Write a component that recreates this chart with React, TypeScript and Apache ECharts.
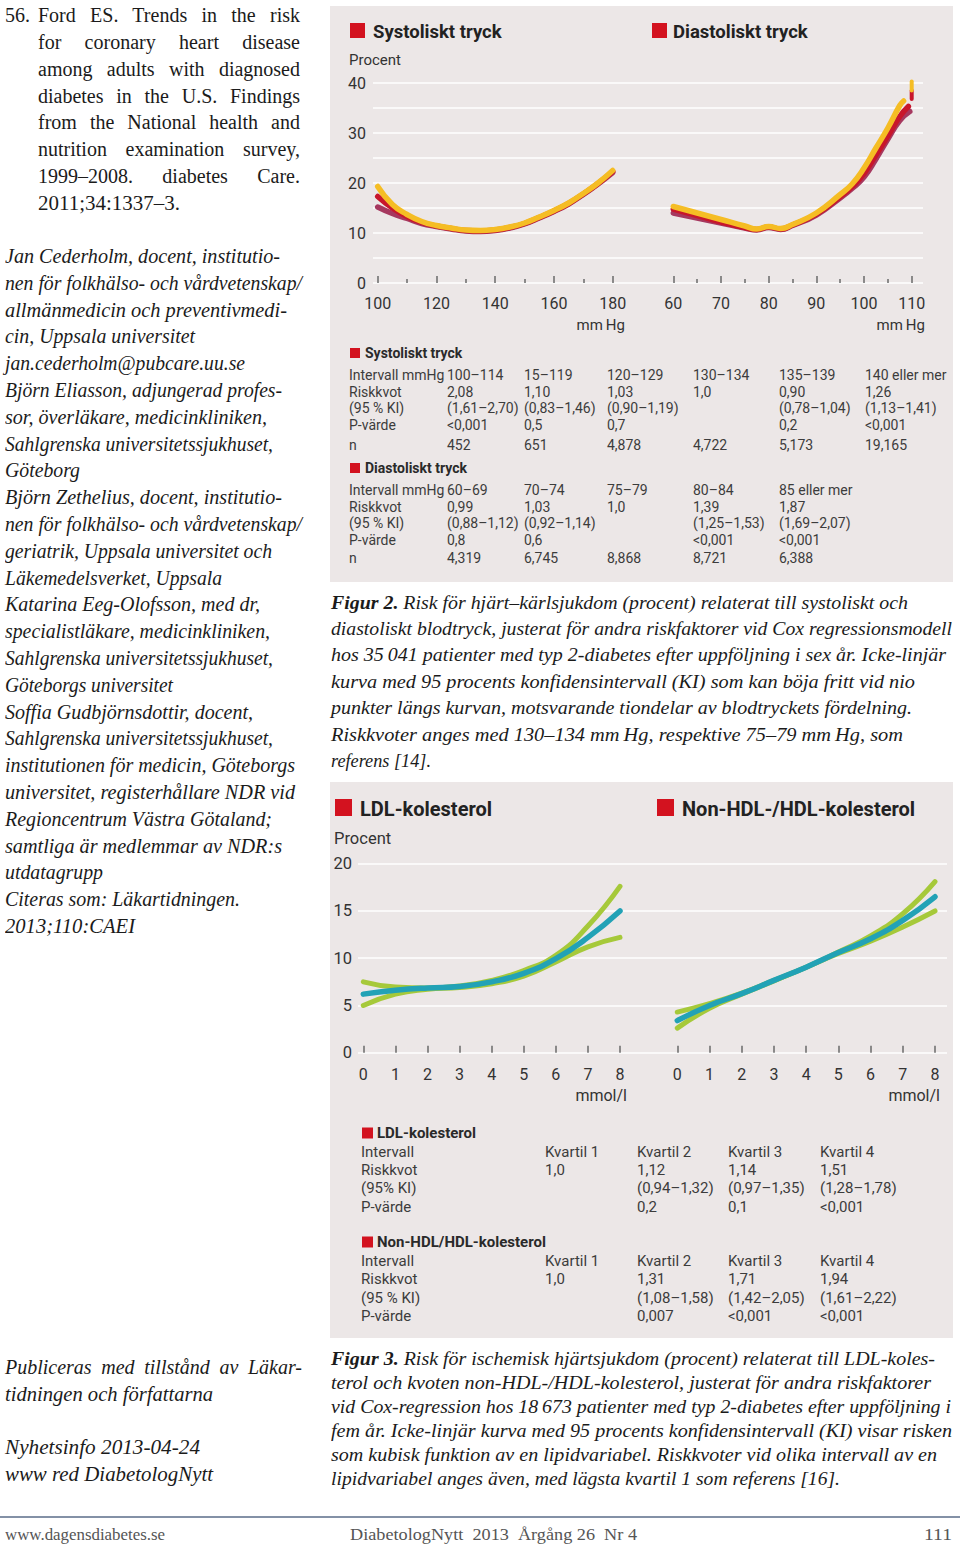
import React, { useEffect, useLayoutEffect, useRef } from "react";
import * as echarts from "echarts";

// ---------------- Figure 2 data (risk %) ----------------
const sysX = [100, 105, 110, 115, 120, 125, 130, 135, 140, 145, 150, 155, 160, 165, 170, 175, 180];
const sysUpper = [19.3, 15.7, 13.7, 12.3, 11.5, 11.0, 10.6, 10.5, 10.7, 11.2, 12.0, 13.2, 14.5, 16.0, 17.9, 20.0, 22.5];
const sysEstimate = [17.3, 15.0, 13.3, 12.1, 11.4, 10.9, 10.5, 10.4, 10.6, 11.1, 11.9, 13.1, 14.4, 15.9, 17.8, 19.9, 22.3];
const sysLower = [15.2, 13.9, 12.9, 11.9, 11.3, 10.8, 10.4, 10.3, 10.5, 11.0, 11.8, 13.0, 14.3, 15.8, 17.7, 19.8, 22.1];

const diaUpperX = [60, 65, 70, 75, 77.5, 80, 82.5, 85, 90, 95, 97.5, 100, 102.5, 105, 107.5, 108.3];
const diaUpper = [15.3, 14.0, 12.7, 11.4, 10.8, 11.3, 10.9, 11.7, 14.0, 17.7, 19.8, 23.0, 27.0, 31.0, 35.5, 36.4];
const diaEstimateX = [60, 65, 70, 75, 77.5, 80, 82.5, 85, 90, 95, 97.5, 100, 102.5, 105, 107.5, 109.3];
const diaEstimate = [14.8, 13.5, 12.2, 11.1, 10.7, 11.2, 10.8, 11.6, 13.8, 17.3, 19.3, 21.9, 25.6, 29.4, 33.3, 35.3];
const diaLowerX = [60, 65, 70, 75, 77.5, 80, 82.5, 85, 90, 95, 97.5, 100, 102.5, 105, 107.5, 109.6];
const diaLower = [14.0, 13.0, 12.0, 11.0, 10.6, 11.1, 10.7, 11.5, 13.6, 17.0, 18.9, 21.2, 24.8, 28.8, 32.5, 34.3];
const diaTailX = [110, 110];
const diaTailUpper = [40.3, 38.5];
const diaTailEstimate = [38.5, 36.8];

// ---------------- Figure 2 table ----------------
const sysRowLabels = ["Intervall mmHg", "Riskkvot", "(95 % KI)", "P-värde", "n"];
const sysIntervals = ["100–114", "15–119", "120–129", "130–134", "135–139", "140 eller mer"];
const sysHR = ["2,08", "1,10", "1,03", "1,0", "0,90", "1,26"];
const sysCI = ["(1,61–2,70)", "(0,83–1,46)", "(0,90–1,19)", "", "(0,78–1,04)", "(1,13–1,41)"];
const sysP = ["<0,001", "0,5", "0,7", "", "0,2", "<0,001"];
const sysN = ["452", "651", "4,878", "4,722", "5,173", "19,165"];
const diaRowLabels = ["Intervall mmHg", "Riskkvot", "(95 % KI)", "P-värde", "n"];
const diaIntervals = ["60–69", "70–74", "75–79", "80–84", "85 eller mer"];
const diaHR = ["0,99", "1,03", "1,0", "1,39", "1,87"];
const diaCI = ["(0,88–1,12)", "(0,92–1,14)", "", "(1,25–1,53)", "(1,69–2,07)"];
const diaP = ["0,8", "0,6", "", "<0,001", "<0,001"];
const diaN = ["4,319", "6,745", "8,868", "8,721", "6,388"];

// ---------------- Figure 3 data ----------------
const ldlX = [0, 1, 2, 3, 4, 5, 6, 7, 8];
const ldlEstimate = [6.2, 6.6, 6.85, 7.0, 7.5, 8.4, 9.95, 12.2, 15.0];
const ldlUpper = [7.5, 6.95, 6.85, 7.05, 7.65, 8.7, 10.3, 13.4, 17.6];
const ldlLower = [5.0, 6.2, 6.7, 6.9, 7.3, 8.1, 9.6, 11.2, 12.2];
const nhX = [0, 1, 2, 3, 4, 5, 6, 7, 8];
const nhEstimate = [3.4, 5.0, 6.25, 7.65, 9.05, 10.6, 12.05, 14.0, 16.5];
const nhUpper = [4.3, 5.2, 6.3, 7.65, 9.05, 10.65, 12.35, 14.7, 18.1];
const nhLower = [2.6, 4.7, 6.2, 7.6, 9.05, 10.5, 11.8, 13.3, 15.0];

// ---------------- Figure 3 table ----------------
const ldlRowLabels = ["Intervall", "Riskkvot", "(95% KI)", "P-värde"];
const nhRowLabels = ["Intervall", "Riskkvot", "(95 % KI)", "P-värde"];
const quartiles = ["Kvartil 1", "Kvartil 2", "Kvartil 3", "Kvartil 4"];
const ldlHR = ["1,0", "1,12", "1,14", "1,51"];
const ldlCI = ["", "(0,94–1,32)", "(0,97–1,35)", "(1,28–1,78)"];
const ldlP = ["", "0,2", "0,1", "<0,001"];
const nhHR = ["1,0", "1,31", "1,71", "1,94"];
const nhCI = ["", "(1,08–1,58)", "(1,42–2,05)", "(1,61–2,22)"];
const nhP = ["", "0,007", "<0,001", "<0,001"];

// ---------------- styles ----------------
const SANS = "Roboto, 'Liberation Sans', sans-serif";
const SERIF = "'Liberation Serif', 'DejaVu Serif', serif";
const TXT = "#333333";
const RED = "#d3121f";
const BOX_BG = "#ece7e7";
const C_YELLOW = "#f5bd24";
const C_RED = "#c8162b";
const C_PURPLE = "#a6385f";
const C_GREEN = "#a6c93a";
const C_TEAL = "#22a2b6";

const pairs = (xs: number[], ys: number[]) => xs.map((x, i) => [x, ys[i]]);

const txt = (text: string, x: number, y: number, size: number, opts: any = {}) => ({
  type: "text",
  x,
  y,
  silent: true,
  style: {
    text,
    fill: opts.fill || TXT,
    font: `${opts.weight || "normal"} ${size}px ${SANS}`,
    textAlign: opts.align || "left",
    align: opts.align || "left",
    textVerticalAlign: "middle",
    verticalAlign: "middle",
  },
});

const square = (x: number, y: number, s: number) => ({
  type: "rect",
  silent: true,
  shape: { x, y, width: s, height: s },
  style: { fill: RED },
});

function tableEls(
  title: string,
  titleY: number,
  sq: { x: number; s: number },
  titleX: number,
  labels: string[],
  rows: string[][],
  labelX: number,
  colX: number[],
  rowY: number[],
  size: number
) {
  const els: any[] = [square(sq.x, titleY - sq.s / 2, sq.s), txt(title, titleX, titleY, size, { weight: "bold", fill: "#2a2a2a" })];
  labels.forEach((lab, r) => {
    els.push(txt(lab, labelX, rowY[r], size, { fill: "#3c3c3c" }));
    rows[r].forEach((v, c) => {
      if (v) els.push(txt(v, colX[c], rowY[r], size, { fill: "#3c3c3c" }));
    });
  });
  return els;
}

const lineSeries = (name: string, data: number[][], color: string, width: number, idx: number, extra: any = {}) => ({
  name,
  type: "line",
  xAxisIndex: idx,
  yAxisIndex: idx,
  data,
  smooth: true,
  showSymbol: false,
  symbol: "none",
  silent: true,
  lineStyle: { color, width, cap: "round", join: "round" },
  ...extra,
});

function fig2Option(): any {
  const tick = { show: true, inside: true, length: 7, lineStyle: { color: "#6a6a6a", width: 1.5 } };
  const minor = { show: true, splitNumber: 2, length: 4, lineStyle: { color: "#6a6a6a", width: 1.5 } };
  const lab = { margin: 3, fontSize: 16, color: TXT, fontFamily: SANS };
  const top = 77;
  const h = 200;
  return {
    animation: false,
    backgroundColor: BOX_BG,
    grid: [
      { left: 43, top, width: 550, height: h, outerBoundsMode: "none", containLabel: false },
      { left: 47.7, top, width: 235, height: h, outerBoundsMode: "none", containLabel: false },
      { left: 343.3, top, width: 238.4, height: h, outerBoundsMode: "none", containLabel: false },
    ],
    xAxis: [
      { gridIndex: 0, type: "value", min: 0, max: 1, show: false },
      {
        gridIndex: 1, type: "value", min: 100, max: 180, interval: 20, offset: 9,
        axisLine: { show: false }, axisTick: tick, minorTick: minor, splitLine: { show: false }, minorSplitLine: { show: false },
        axisLabel: { ...lab, showMinLabel: true, showMaxLabel: true },
      },
      {
        gridIndex: 2, type: "value", min: 60, max: 110, interval: 10, offset: 9,
        axisLine: { show: false }, axisTick: tick, minorTick: minor, splitLine: { show: false }, minorSplitLine: { show: false },
        axisLabel: { ...lab, showMinLabel: true, showMaxLabel: true },
      },
    ],
    yAxis: [
      {
        gridIndex: 0, type: "value", min: 0, max: 40, interval: 5,
        axisLine: { show: false }, axisTick: { show: false },
        splitLine: { show: true, lineStyle: { color: "#ffffff", width: 1.6 } },
        axisLabel: { margin: 7, fontSize: 16, color: TXT, fontFamily: SANS, formatter: (v: number) => (v % 10 === 0 ? String(v) : "") },
      },
      { gridIndex: 1, type: "value", min: 0, max: 40, show: false, splitLine: { show: false } },
      { gridIndex: 2, type: "value", min: 0, max: 40, show: false, splitLine: { show: false } },
    ],
    series: [
      lineSeries("Systoliskt nedre", pairs(sysX, sysLower), C_PURPLE, 5.5, 1),
      lineSeries("Systoliskt", pairs(sysX, sysEstimate), C_RED, 5.5, 1),
      lineSeries("Systoliskt övre", pairs(sysX, sysUpper), C_YELLOW, 5.5, 1),
      lineSeries("Diastoliskt nedre", pairs(diaLowerX, diaLower), C_PURPLE, 5.5, 2),
      lineSeries("Diastoliskt", pairs(diaEstimateX, diaEstimate), C_RED, 5.5, 2),
      lineSeries("Diastoliskt övre", pairs(diaUpperX, diaUpper), C_YELLOW, 5.5, 2),
      lineSeries("Diastoliskt svans", pairs(diaTailX, diaTailEstimate), C_RED, 4, 2, { smooth: false, clip: false }),
      lineSeries("Diastoliskt svans övre", pairs(diaTailX, diaTailUpper), C_YELLOW, 4, 2, { smooth: false, clip: false }),
    ],
    graphic: [
      square(20, 17, 15),
      txt("Systoliskt tryck", 43, 26, 18.5, { weight: "bold", fill: "#222" }),
      square(322, 17, 15),
      txt("Diastoliskt tryck", 343, 26, 18.5, { weight: "bold", fill: "#222" }),
      txt("Procent", 19, 54, 15),
      txt("mm\u2009Hg", 295, 319, 15, { align: "right" }),
      txt("mm\u2009Hg", 595, 319, 15, { align: "right" }),
      ...tableEls(
        "Systoliskt tryck", 347, { x: 20, s: 10 }, 35, sysRowLabels,
        [sysIntervals, sysHR, sysCI, sysP, sysN], 19,
        [117, 194, 277, 363, 449, 535], [369, 386, 402, 419, 439], 14
      ),
      ...tableEls(
        "Diastoliskt tryck", 462, { x: 20, s: 10 }, 35, diaRowLabels,
        [diaIntervals, diaHR, diaCI, diaP, diaN], 19,
        [117, 194, 277, 363, 449], [484, 501, 517, 534, 552], 14
      ),
    ],
  };
}

function fig3Option(): any {
  const tick = { show: true, inside: true, length: 7, lineStyle: { color: "#6a6a6a", width: 1.5 } };
  const lab = { margin: 4, fontSize: 16, color: TXT, fontFamily: SANS };
  const top = 81.7;
  const h = 189;
  const xa = (gi: number) => ({
    gridIndex: gi, type: "value", min: 0, max: 8, interval: 1, offset: 10,
    axisLine: { show: false }, axisTick: tick, splitLine: { show: false }, axisLabel: lab,
  });
  return {
    animation: false,
    backgroundColor: BOX_BG,
    grid: [
      { left: 28, top, width: 589, height: h, outerBoundsMode: "none", containLabel: false },
      { left: 33.3, top, width: 256.7, height: h, outerBoundsMode: "none", containLabel: false },
      { left: 347.3, top, width: 257.7, height: h, outerBoundsMode: "none", containLabel: false },
    ],
    xAxis: [{ gridIndex: 0, type: "value", min: 0, max: 1, show: false }, xa(1), xa(2)],
    yAxis: [
      {
        gridIndex: 0, type: "value", min: 0, max: 20, interval: 5,
        axisLine: { show: false }, axisTick: { show: false },
        splitLine: { show: true, lineStyle: { color: "#ffffff", width: 1.6 } },
        axisLabel: { margin: 6, fontSize: 16.5, color: TXT, fontFamily: SANS },
      },
      { gridIndex: 1, type: "value", min: 0, max: 20, show: false, splitLine: { show: false } },
      { gridIndex: 2, type: "value", min: 0, max: 20, show: false, splitLine: { show: false } },
    ],
    series: [
      lineSeries("LDL övre", pairs(ldlX, ldlUpper), C_GREEN, 5, 1),
      lineSeries("LDL nedre", pairs(ldlX, ldlLower), C_GREEN, 5, 1),
      lineSeries("LDL-kolesterol", pairs(ldlX, ldlEstimate), C_TEAL, 5.5, 1),
      lineSeries("Non-HDL övre", pairs(nhX, nhUpper), C_GREEN, 5, 2),
      lineSeries("Non-HDL nedre", pairs(nhX, nhLower), C_GREEN, 5, 2),
      lineSeries("Non-HDL-/HDL-kolesterol", pairs(nhX, nhEstimate), C_TEAL, 5.5, 2),
    ],
    graphic: [
      square(5, 17, 17),
      txt("LDL-kolesterol", 30, 26.5, 20, { weight: "bold", fill: "#222" }),
      square(327, 17, 17),
      txt("Non-HDL-/HDL-kolesterol", 352, 26.5, 20, { weight: "bold", fill: "#222" }),
      txt("Procent", 4, 56, 16.5),
      txt("mmol/l", 297, 313, 16, { align: "right" }),
      txt("mmol/l", 610, 313, 16, { align: "right" }),
      ...tableEls(
        "LDL-kolesterol", 351, { x: 32, s: 11 }, 47, ldlRowLabels,
        [quartiles, ldlHR, ldlCI, ldlP], 31,
        [215, 307, 398, 490], [370, 388, 406, 425], 15
      ),
      ...tableEls(
        "Non-HDL/HDL-kolesterol", 460, { x: 32, s: 11 }, 47, nhRowLabels,
        [quartiles, nhHR, nhCI, nhP], 31,
        [215, 307, 398, 490], [479, 497, 516, 534], 15
      ),
    ],
  };
}

function EChart({ option, style }: { option: any; style: React.CSSProperties }) {
  const ref = useRef<HTMLDivElement | null>(null);
  useEffect(() => {
    if (!ref.current) return;
    const chart = echarts.init(ref.current, null, { renderer: "svg" });
    chart.setOption(option);
    return () => chart.dispose();
  }, []);
  return <div ref={ref} style={style} />;
}

// ---------------- page text lines ----------------
type Ln = { t: string; x: number; y: number; w?: number; mode?: "justify" | "scale"; bold?: string };

const refLines: Ln[] = [
  { t: "56.", x: 5, y: 16 },
  { t: "Ford ES. Trends in the risk", x: 38, y: 16, w: 262, mode: "justify" },
  { t: "for coronary heart disease", x: 38, y: 43, w: 262, mode: "justify" },
  { t: "among adults with diagnosed", x: 38, y: 70, w: 262, mode: "justify" },
  { t: "diabetes in the U.S. Findings", x: 38, y: 97, w: 262, mode: "justify" },
  { t: "from the National health and", x: 38, y: 123, w: 262, mode: "justify" },
  { t: "nutrition examination survey,", x: 38, y: 150, w: 262, mode: "justify" },
  { t: "1999–2008. diabetes Care.", x: 38, y: 177, w: 262, mode: "justify" },
  { t: "2011;34:1337–3.", x: 38, y: 204, w: 142, mode: "scale" },
];

const authorEnds: [string, number][] = [
  ["Jan Cederholm, docent, institutio-", 280],
  ["nen för folkhälso- och vårdvetenskap/", 302],
  ["allmänmedicin och preventivmedi-", 287],
  ["cin, Uppsala universitet", 195],
  ["jan.cederholm@pubcare.uu.se", 245],
  ["Björn Eliasson, adjungerad profes-", 282],
  ["sor, överläkare, medicinkliniken,", 267],
  ["Sahlgrenska universitetssjukhuset,", 273],
  ["Göteborg", 80],
  ["Björn Zethelius, docent, institutio-", 282],
  ["nen för folkhälso- och vårdvetenskap/", 302],
  ["geriatrik, Uppsala universitet och", 272],
  ["Läkemedelsverket, Uppsala", 222],
  ["Katarina Eeg-Olofsson, med dr,", 260],
  ["specialistläkare, medicinkliniken,", 270],
  ["Sahlgrenska universitetssjukhuset,", 273],
  ["Göteborgs universitet", 173],
  ["Soffia Gudbjörnsdottir, docent,", 253],
  ["Sahlgrenska universitetssjukhuset,", 273],
  ["institutionen för medicin, Göteborgs", 295],
  ["universitet, registerhållare NDR vid", 295],
  ["Regioncentrum Västra Götaland;", 272],
  ["samtliga är medlemmar av NDR:s", 282],
  ["utdatagrupp", 103],
  ["Citeras som: Läkartidningen.", 240],
  ["2013;110:CAEI", 135],
];
const authorLines: Ln[] = authorEnds.map(([t, end], i) => ({ t, x: 5, y: 257 + i * 26.8, w: end - 5, mode: "scale" }));

const cap2: Ln[] = [
  { bold: "Figur 2.", t: " Risk för hjärt–kärlsjukdom (procent) relaterat till systoliskt och", x: 331, y: 603, w: 577, mode: "scale" },
  { t: "diastoliskt blodtryck, justerat för andra riskfaktorer vid Cox regressionsmodell", x: 331, y: 629, w: 621, mode: "scale" },
  { t: "hos 35\u2009041 patienter med typ 2-diabetes efter uppföljning i sex år. Icke-linjär", x: 331, y: 655, w: 615, mode: "scale" },
  { t: "kurva med 95 procents konfidensintervall (KI) som kan böja fritt vid nio", x: 331, y: 682, w: 584, mode: "scale" },
  { t: "punkter längs kurvan, motsvarande tiondelar av blodtryckets fördelning.", x: 331, y: 708, w: 581, mode: "scale" },
  { t: "Riskkvoter anges med 130–134 mm\u2009Hg, respektive 75–79 mm\u2009Hg, som", x: 331, y: 735, w: 572, mode: "scale" },
  { t: "referens [14].", x: 331, y: 761, w: 100, mode: "scale" },
];

const cap3: Ln[] = [
  { bold: "Figur 3.", t: " Risk för ischemisk hjärtsjukdom (procent) relaterat till LDL-koles-", x: 331, y: 1360, w: 604, mode: "scale" },
  { t: "terol och kvoten non-HDL-/HDL-kolesterol, justerat för andra riskfaktorer", x: 331, y: 1384, w: 600, mode: "scale" },
  { t: "vid Cox-regression hos 18\u2009673 patienter med typ 2-diabetes efter uppföljning i", x: 331, y: 1408, w: 620, mode: "scale" },
  { t: "fem år. Icke-linjär kurva med 95 procents konfidensintervall (KI) visar risken", x: 331, y: 1432, w: 621, mode: "scale" },
  { t: "som kubisk funktion av en lipidvariabel. Riskkvoter vid olika intervall av en", x: 331, y: 1456, w: 606, mode: "scale" },
  { t: "lipidvariabel anges även, med lägsta kvartil 1 som referens [16].", x: 331, y: 1480, w: 509, mode: "scale" },
];

const bottomLeft: Ln[] = [
  { t: "Publiceras med tillstånd av Läkar-", x: 5, y: 1368, w: 297, mode: "justify" },
  { t: "tidningen och författarna", x: 5, y: 1395, w: 208, mode: "scale" },
  { t: "Nyhetsinfo 2013-04-24", x: 5, y: 1448, w: 195, mode: "scale" },
  { t: "www red DiabetologNytt", x: 5, y: 1475, w: 208, mode: "scale" },
];

const footer: Ln[] = [
  { t: "www.dagensdiabetes.se", x: 5, y: 1536, w: 160, mode: "scale" },
  { t: "DiabetologNytt  2013  Årgång 26  Nr 4", x: 350, y: 1536, w: 287, mode: "scale" },
  { t: "111", x: 924, y: 1536, w: 28, mode: "scale" },
];

function Lines({ lines, size, italic, lh, color }: { lines: Ln[]; size: number; italic?: boolean; lh: number; color?: string }) {
  return (
    <>
      {lines.map((l, i) => (
        <div
          key={i}
          data-w={l.w}
          data-mode={l.mode}
          style={{
            position: "absolute",
            left: l.x,
            top: l.y - lh / 2 - 1,
            lineHeight: lh + "px",
            fontSize: size,
            fontStyle: italic ? "italic" : "normal",
            fontFamily: SERIF,
            whiteSpace: "pre",
            transformOrigin: "0 50%",
            color: color || "#1b1b1b",
          }}
        >
          {l.bold ? <b>{l.bold}</b> : null}
          {l.t}
        </div>
      ))}
    </>
  );
}

export default function App() {
  const rootRef = useRef<HTMLDivElement | null>(null);
  useLayoutEffect(() => {
    const fit = () => {
      const root = rootRef.current;
      if (!root) return;
      root.querySelectorAll<HTMLElement>("[data-w]").forEach((el) => {
        const w = Number(el.dataset.w);
        if (!w) return;
        el.style.wordSpacing = "0px";
        el.style.transform = "none";
        const nat = el.getBoundingClientRect().width;
        if (!nat) return;
        if (el.dataset.mode === "justify") {
          const n = ((el.textContent || "").match(/ /g) || []).length;
          if (n > 0) el.style.wordSpacing = (w - nat) / n + "px";
        } else {
          const s = Math.max(0.8, Math.min(1.25, w / nat));
          el.style.transform = `scaleX(${s})`;
        }
      });
    };
    fit();
    const fonts: any = (document as any).fonts;
    if (fonts && fonts.ready) fonts.ready.then(fit);
  }, []);

  return (
    <div
      ref={rootRef}
      style={{ position: "absolute", left: 0, top: 0, width: 960, height: 1548, overflow: "hidden", background: "#ffffff" }}
    >
      <Lines lines={refLines} size={20} lh={26} />
      <Lines lines={authorLines} size={20} lh={26} italic />
      <EChart option={fig2Option()} style={{ position: "absolute", left: 330, top: 6, width: 623, height: 576 }} />
      <Lines lines={cap2} size={19} lh={25} italic />
      <EChart option={fig3Option()} style={{ position: "absolute", left: 330, top: 782, width: 623, height: 556 }} />
      <Lines lines={cap3} size={18.5} lh={24} italic />
      <Lines lines={bottomLeft} size={20} lh={26} italic />
      <div style={{ position: "absolute", left: 0, top: 1516, width: 960, height: 2, background: "#8391a6" }} />
      <Lines lines={footer} size={17} lh={22} color="#555555" />
    </div>
  );
}
